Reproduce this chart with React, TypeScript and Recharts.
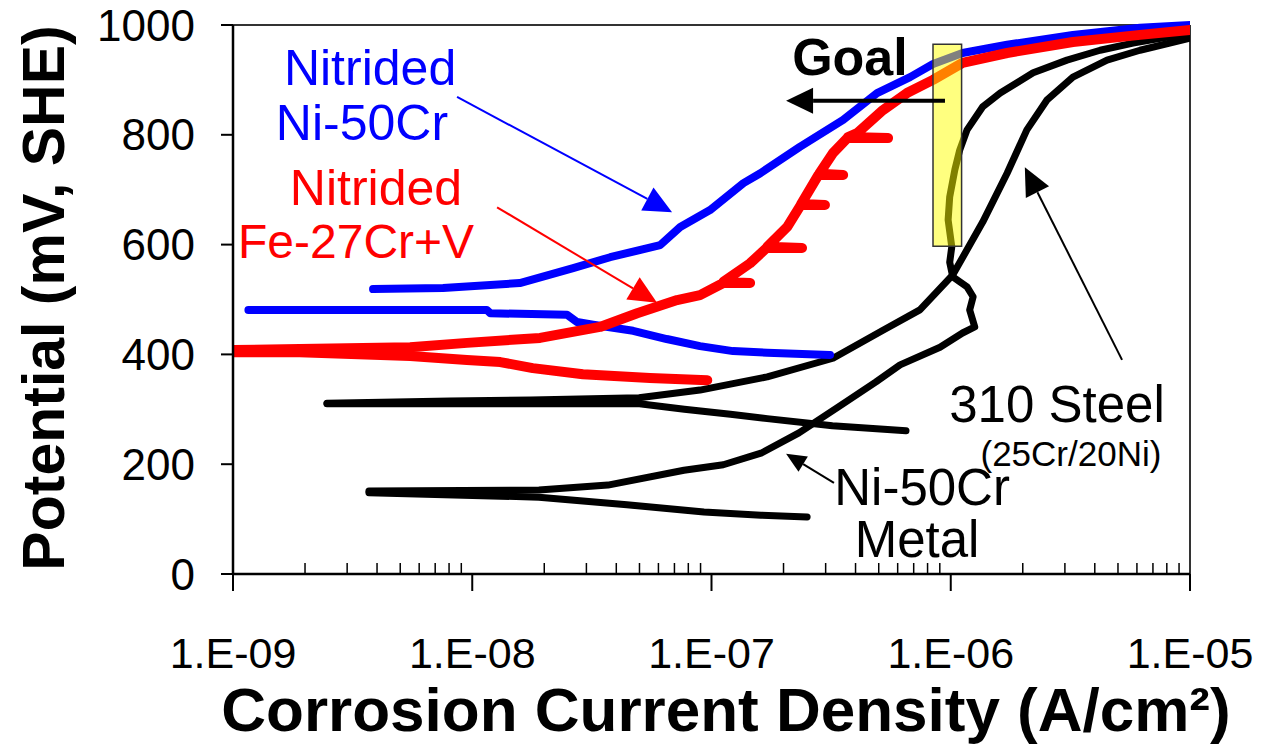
import React from 'react';
import {
  Line,
  LineChart,
  ReferenceArea,
  ReferenceDot,
  ReferenceLine,
  XAxis,
  YAxis,
} from 'recharts';

const FONT = '"Liberation Sans", Arial, Helvetica, sans-serif';
const BLUE = '#0000FF';
const RED = '#FF0000';
const BLACK = '#000000';

// Each point: [current density (A/cm2), potential (mV, SHE)]
const nitridedNiCrCathodic = [
  [1.16e-9, 481], [5e-9, 481], [1.15e-8, 481], [1.19e-8, 475], [2.49e-8, 472],
  [2.74e-8, 459], [3.2e-8, 454], [4.7e-8, 443], [6.5e-8, 428], [8.95e-8, 415],
  [1.23e-7, 406], [1.71e-7, 403], [3.13e-7, 399],
];
const nitridedNiCrAnodic = [
  [3.85e-9, 519], [7.55e-9, 521], [1.58e-8, 530], [2.64e-8, 557], [3.77e-8, 577],
  [6.1e-8, 599], [7.4e-8, 632], [9.86e-8, 663], [1.36e-7, 712], [1.6e-7, 730],
  [2.34e-7, 778], [3.55e-7, 827], [4.92e-7, 876], [6.76e-7, 905], [8.43e-7, 929],
  [1.12e-6, 949], [1.72e-6, 964], [3.24e-6, 982], [6.18e-6, 995], [1e-5, 1000],
];

const nitridedFeCrCathodic = [
  [1e-9, 404], [1.9e-9, 404], [5.5e-9, 397], [9.5e-9, 390], [1.31e-8, 386],
  [1.79e-8, 375], [2.9e-8, 364], [5.53e-8, 357], [9.6e-8, 353],
];
const nitridedFeCrAnodic = [
  [1e-9, 408], [1.9e-9, 410], [5.5e-9, 413], [9.5e-9, 421], [1.92e-8, 430],
  [3.42e-8, 450], [4.89e-8, 475], [7.18e-8, 499], [8.95e-8, 508],
  [1.12e-7, 530], [1.45e-7, 530], [1.12e-7, 532],
  [1.45e-7, 566], [1.7e-7, 594], [2.39e-7, 594], [1.71e-7, 596],
  [2.07e-7, 632], [2.36e-7, 672], [2.98e-7, 672], [2.37e-7, 674],
  [2.8e-7, 727], [3.55e-7, 727], [2.82e-7, 729],
  [3.22e-7, 767], [3.7e-7, 794], [5.47e-7, 794], [3.72e-7, 796],
  [4.06e-7, 803], [5.21e-7, 845], [6.56e-7, 876], [8.43e-7, 900],
  [1.12e-6, 931], [1.72e-6, 949], [3.24e-6, 969], [6.18e-6, 982], [1e-5, 991],
];

const steel310Cathodic = [
  [2.47e-9, 310], [5e-8, 310], [7.7e-8, 300], [1.2e-7, 291], [1.71e-7, 283],
  [3.2e-7, 270], [6.5e-7, 261],
];
const steel310Anodic = [
  [2.47e-9, 311], [8.07e-9, 315], [1.76e-8, 317], [4.98e-8, 321], [8.95e-8, 335],
  [1.71e-7, 359], [3.22e-7, 393], [5.21e-7, 444], [7.43e-7, 481], [1.02e-6, 545],
  [1.36e-6, 641], [1.72e-6, 730], [2.08e-6, 809], [2.52e-6, 863], [3.24e-6, 905],
  [4.5e-6, 936], [6.18e-6, 954], [1e-5, 976],
];

const niCrMetalCathodic = [
  [3.7e-9, 148], [1.9e-8, 140], [4.43e-8, 126], [9.3e-8, 113], [1.61e-7, 107],
  [2.51e-7, 104],
];
const niCrMetalAnodic = [
  [3.7e-9, 151], [1.9e-8, 153], [3.69e-8, 162], [7.67e-8, 189], [1.12e-7, 199],
  [1.61e-7, 220], [2.32e-7, 257], [3.38e-7, 304], [4.87e-7, 350], [6.14e-7, 381],
  [9.02e-7, 413], [1.12e-6, 439], [1.26e-6, 450], [1.2e-6, 481], [1.24e-6, 505],
  [1.17e-6, 523], [1.02e-6, 541], [9.9e-7, 568], [1.01e-6, 596], [9.75e-7, 645],
  [9.9e-7, 687], [1.04e-6, 736], [1.09e-6, 772], [1.17e-6, 809], [1.36e-6, 851],
  [1.61e-6, 876], [2.21e-6, 913], [3.06e-6, 936], [4.21e-6, 954], [5.78e-6, 967],
  [1e-5, 985],
];

// axis ticks
const xDecades = [1e-9, 1e-8, 1e-7, 1e-6, 1e-5];
const xDecadeLabels = ['1.E-09', '1.E-08', '1.E-07', '1.E-06', '1.E-05'];
const xMinorTicks = xDecades
  .slice(0, -1)
  .flatMap(d => [2, 3, 4, 5, 6, 7, 8, 9].map(k => k * d));
const yTicks = [0, 200, 400, 600, 800, 1000];

// "Goal" window
const goalBox = {x1: 8.43e-7, x2: 1.11e-6, y1: 597, y2: 965};

const toRows = (pts: number[][]) => pts.map(([i, v]) => ({i, v}));

const series = [
  {key: 'steel-c', pts: steel310Cathodic, color: BLACK, width: 7},
  {key: 'steel-a', pts: steel310Anodic, color: BLACK, width: 7},
  {key: 'nicr-c', pts: niCrMetalCathodic, color: BLACK, width: 7},
  {key: 'nicr-a', pts: niCrMetalAnodic, color: BLACK, width: 7},
  {key: 'nnicr-c', pts: nitridedNiCrCathodic, color: BLUE, width: 8},
  {key: 'nnicr-a', pts: nitridedNiCrAnodic, color: BLUE, width: 8},
  {key: 'nfecr-c', pts: nitridedFeCrCathodic, color: RED, width: 10},
  {key: 'nfecr-a', pts: nitridedFeCrAnodic, color: RED, width: 10},
];

// annotation text, anchored by its centre/baseline in data space
const notes = [
  {text: 'Nitrided', x: 3.74e-9, y: 891, color: BLUE, size: 50},
  {text: 'Ni-50Cr', x: 3.46e-9, y: 791, color: BLUE, size: 50},
  {text: 'Nitrided', x: 3.96e-9, y: 672, color: RED, size: 50},
  {text: 'Fe-27Cr+V', x: 3.27e-9, y: 576, color: RED, size: 48},
  {text: 'Goal', x: 3.79e-7, y: 909, color: BLACK, size: 52, bold: true},
  {text: '310 Steel', x: 2.78e-6, y: 277, color: BLACK, size: 51},
  {text: '(25Cr/20Ni)', x: 3.18e-6, y: 197, color: BLACK, size: 35},
  {text: 'Ni-50Cr', x: 7.59e-7, y: 126, color: BLACK, size: 51},
  {text: 'Metal', x: 7.23e-7, y: 31, color: BLACK, size: 51},
];

const arrows = [
  {from: [8.64e-9, 869], to: [6.84e-8, 659], color: BLUE, w: 2, head: 28, half: 13},
  {from: [1.27e-8, 668], to: [5.92e-8, 494], color: RED, w: 2, head: 28, half: 13},
  {from: [3.25e-7, 166], to: [2.05e-7, 219], color: BLACK, w: 2, head: 20, half: 9},
  {from: [5.2e-6, 390], to: [2.04e-6, 741], color: BLACK, w: 2, head: 28, half: 13},
  {from: [9.46e-7, 862], to: [2.05e-7, 862], color: BLACK, w: 4, head: 27, half: 13},
];

const arrowShape =
  (color: string, w: number, head: number, half: number) => (props: any) => {
    const {x1, y1, x2, y2} = props;
    const dx = x2 - x1;
    const dy = y2 - y1;
    const len = Math.hypot(dx, dy) || 1;
    const ux = dx / len;
    const uy = dy / len;
    const bx = x2 - ux * head;
    const by = y2 - uy * head;
    return (
      <g>
        <line x1={x1} y1={y1} x2={bx} y2={by} stroke={color} strokeWidth={w} />
        <polygon
          points={`${x2},${y2} ${bx - uy * half},${by + ux * half} ${bx + uy * half},${by - ux * half}`}
          fill={color}
        />
      </g>
    );
  };

const textShape =
  (text: string, color: string, size: number, bold?: boolean) => (props: any) =>
    (
      <text
        x={props.cx}
        y={props.cy}
        textAnchor="middle"
        fill={color}
        fontSize={size}
        fontWeight={bold ? 'bold' : 'normal'}
        fontFamily={FONT}>
        {text}
      </text>
    );

// log axis tick: long outward tick + label on decades, short inward tick otherwise
const XTick = (props: any) => {
  const {x, y, payload} = props;
  const idx = xDecades.indexOf(payload.value);
  if (idx < 0) {
    return <line x1={x} y1={y - 11} x2={x} y2={y} stroke={BLACK} strokeWidth={1.5} />;
  }
  return (
    <g>
      <line x1={x} y1={y} x2={x} y2={y + 17} stroke={BLACK} strokeWidth={2} />
      <text x={x} y={y + 94} textAnchor="middle" fontSize={43} fontFamily={FONT} fill={BLACK}>
        {xDecadeLabels[idx]}
      </text>
    </g>
  );
};

export default function App() {
  return (
    <div
      style={{
        position: 'absolute',
        left: 0,
        top: 0,
        width: 1263,
        height: 746,
        background: '#fff',
      }}>
      <LineChart width={1263} height={746} margin={{top: 25, right: 73, left: 0, bottom: 0}}>
        <XAxis
          dataKey="i"
          type="number"
          scale="log"
          domain={[1e-9, 1e-5]}
          allowDataOverflow
          ticks={[...xDecades, ...xMinorTicks]}
          interval={0}
          tickSize={0}
          tickMargin={0}
          tickLine={false}
          tick={<XTick />}
          axisLine={{stroke: BLACK, strokeWidth: 2.5}}
          height={172}
        />
        <YAxis
          type="number"
          domain={[0, 1000]}
          ticks={yTicks}
          interval={0}
          width={233}
          tickSize={12}
          tickMargin={26}
          tick={{fill: BLACK, fontSize: 44, fontFamily: FONT}}
          tickLine={{stroke: BLACK, strokeWidth: 2}}
          axisLine={{stroke: BLACK, strokeWidth: 2.5}}
        />
        <ReferenceLine y={1000} stroke="#333" strokeWidth={2} />
        <ReferenceLine x={1e-5} stroke="#333" strokeWidth={2} />
        {series.map(s => (
          <Line
            key={s.key}
            data={toRows(s.pts)}
            dataKey="v"
            type="linear"
            stroke={s.color}
            strokeWidth={s.width}
            strokeLinejoin="round"
            strokeLinecap="round"
            dot={false}
            activeDot={false}
            isAnimationActive={false}
          />
        ))}
        <ReferenceArea
          x1={goalBox.x1}
          x2={goalBox.x2}
          y1={goalBox.y1}
          y2={goalBox.y2}
          fill="#FFFF00"
          fillOpacity={0.5}
          stroke="#333"
          strokeWidth={1.5}
          zIndex={1000}
        />
        {arrows.map((a, k) => (
          <ReferenceLine
            key={'arrow' + k}
            segment={[
              {x: a.from[0], y: a.from[1]},
              {x: a.to[0], y: a.to[1]},
            ]}
            shape={arrowShape(a.color, a.w, a.head, a.half)}
            zIndex={1100}
          />
        ))}
        {notes.map((n, k) => (
          <ReferenceDot
            key={'note' + k}
            x={n.x}
            y={n.y}
            r={0}
            shape={textShape(n.text, n.color, n.size, n.bold)}
            zIndex={1100}
          />
        ))}
      </LineChart>
      <svg
        width={1263}
        height={746}
        style={{position: 'absolute', left: 0, top: 0, pointerEvents: 'none'}}>
        <text
          transform="translate(64, 298) rotate(-90)"
          textAnchor="middle"
          fontSize={59}
          fontWeight="bold"
          fontFamily={FONT}
          fill={BLACK}>
          Potential (mV, SHE)
        </text>
        <text
          x={726}
          y={731}
          textAnchor="middle"
          fontSize={62}
          fontWeight="bold"
          fontFamily={FONT}
          fill={BLACK}>
          Corrosion Current Density (A/cm²)
        </text>
      </svg>
    </div>
  );
}
